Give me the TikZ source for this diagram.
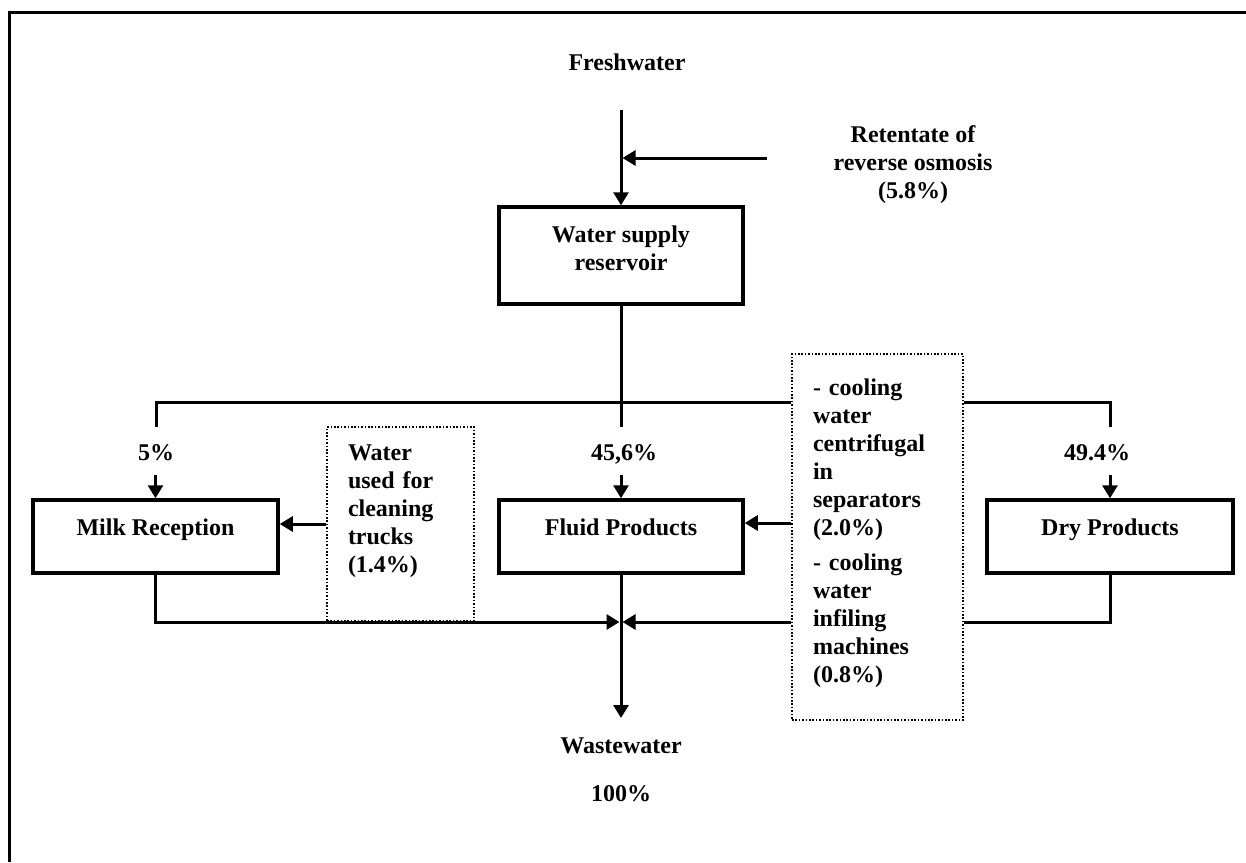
\documentclass[tikz,border=0pt]{standalone}
\usepackage{fontspec}
\setmainfont{Liberation Serif}
\usetikzlibrary{arrows.meta}
\begin{document}
\begin{tikzpicture}[x=1pt,y=-1pt,
  every node/.style={font=\fontsize{24}{28}\selectfont\bfseries},
  procbox/.style={draw, line width=3.5pt, minimum width=245pt, minimum height=73pt,
    inner sep=0pt, text height=17pt, text depth=20pt, align=center},
  notebox/.style={draw, line width=1.6pt, dash pattern=on 1.6pt off 1.8pt,
    inner xsep=21pt, inner ysep=0pt, align=left, text height=17pt},
  lbl/.style={anchor=base, align=center, inner sep=0pt},
  flow/.style={line width=3pt, line join=miter},
  arr/.style={flow, -{Triangle[length=13pt,width=15pt]}},
]
\useasboundingbox (0,0) rectangle (1246,862);
% frame
\draw[line width=3pt] (9,862) -- (9,12) -- (1246,12);

% nodes
\node[lbl] (fresh) at (627,70) {Freshwater};
\node[lbl] (ret) at (913,198) {Retentate of\\reverse osmosis\\(5.8\%)};
\node[procbox, minimum width=244pt, minimum height=97pt, text height=45pt, text depth=16pt] (wsr) at (621,255.5) {Water supply\\reservoir};
\node[procbox] (milk) at (155.5,536.5) {Milk Reception};
\node[procbox, minimum width=244pt] (fluid) at (621,536.5) {Fluid Products};
\node[procbox, minimum width=246pt] (dry) at (1110,536.5) {Dry Products};
\node[notebox, text width=105pt, minimum height=194pt, text depth=145pt] (clean) at (400.5,524)
  {Water\\used for\\cleaning\\trucks\\(1.4\%)};
\node[notebox, text width=129pt, minimum height=366pt, text depth=301pt] (cool) at (877.5,537)
  {- cooling\\water\\centrifugal\\in\\separators\\(2.0\%)\\[7pt]- cooling\\water\\infiling\\machines\\(0.8\%)};
\node[lbl] (p5) at (156,460) {5\%};
\node[lbl] (p456) at (624,460) {45,6\%};
\node[lbl] (p494) at (1097,460) {49.4\%};
\node[lbl] (waste) at (621,753) {Wastewater};
\node[lbl] (total) at (621,801) {100\%};

% coordinates
\coordinate (fwtop) at (621,110);
\coordinate (retstart) at (767,158);
\coordinate (dropM) at (621,427);
\coordinate (dropL) at (156,427);
\coordinate (dropR) at (1110,427);
\coordinate (split) at (621,402);
\coordinate (lvl) at (0,523);
\coordinate (merge) at (621,622);
\coordinate (out) at (621,718);

% connectors
\draw[arr] (fwtop) -- (wsr.north);
\draw[arr] (retstart) -- ([xshift=1.5pt]fwtop |- retstart);
\draw[flow] (wsr.south) -- (dropM);
\draw[flow] (dropL) |- (cool.west |- split);
\draw[flow] (cool.east |- split) -| (dropR);
\draw[arr] ([yshift=23pt]milk.north) -- (milk.north);
\draw[arr] ([yshift=23pt]fluid.north) -- (fluid.north);
\draw[arr] ([yshift=23pt]dry.north) -- (dry.north);
\draw[arr] (clean.west) -- (milk.east |- clean.west);
\draw[arr] (cool.west |- lvl) -- (fluid.east |- lvl);
\draw[arr] (milk.south) |- ([xshift=-1.5pt]merge);
\draw[flow] (dry.south) |- (cool.east |- merge);
\draw[arr] (cool.west |- merge) -- ([xshift=1.5pt]merge);
\draw[arr] (fluid.south) -- (out);
\end{tikzpicture}
\end{document}
